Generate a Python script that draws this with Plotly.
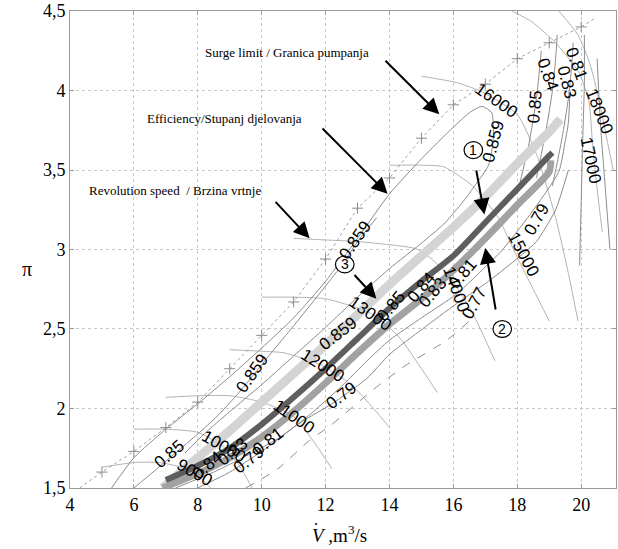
import plotly.graph_objects as go

# ---------------- data ----------------
x_ticks = [4, 6, 8, 10, 12, 14, 16, 18, 20]
y_ticks = [1.5, 2, 2.5, 3, 3.5, 4, 4.5]
y_tick_text = ["1,5", "2", "2,5", "3", "3,5", "4", "4,5"]

surge_x = [4.3, 5, 6, 7, 8, 9, 10, 11, 12, 13, 14, 15, 16, 17, 18, 19, 20, 20.4]
surge_y = [1.5, 1.6, 1.73, 1.88, 2.04, 2.25, 2.46, 2.67, 2.94, 3.26, 3.45, 3.70, 3.91, 4.04, 4.2, 4.3, 4.4, 4.45]
surge_mark_x = [5, 6, 7, 8, 9, 10, 11, 12, 13, 14, 15, 16, 17, 18, 19, 20]
surge_mark_y = [1.6, 1.73, 1.88, 2.04, 2.25, 2.46, 2.67, 2.94, 3.26, 3.45, 3.70, 3.91, 4.04, 4.2, 4.3, 4.4]

# efficiency contour lines
effA_x = [5.3, 6, 7, 8, 9, 10, 11, 12, 13, 14, 15, 16, 16.5, 16.9, 17.2, 17.25, 17.1, 16.7, 16.3, 15.7, 15, 14, 13, 12, 11, 10, 9, 8.2, 7.6]
effA_y = [1.5, 1.69, 1.87, 2.03, 2.2, 2.38, 2.57, 2.8, 3.07, 3.35, 3.57, 3.77, 3.86, 3.9, 3.86, 3.7, 3.53, 3.41, 3.3, 3.16, 3.04, 2.88, 2.7, 2.51, 2.33, 2.15, 1.98, 1.84, 1.72]
effB_x = [6.0, 6.6, 7.3, 8.0, 8.6, 9.2, 9.7, 10.3, 11.0, 11.8, 12.5, 13.0, 13.6]
effB_y = [1.5, 1.6, 1.72, 1.84, 1.95, 2.08, 2.2, 2.35, 2.52, 2.72, 2.9, 3.05, 3.2]
effC_x = [7.3, 8.5, 9.5, 10.5, 11.5, 12.5, 13.3, 14.0, 15.0, 16.1, 17.1, 17.5, 18.4, 19.3, 19.5, 19.6, 19.65]
effC_y = [1.5, 1.6, 1.7, 1.81, 1.96, 2.14, 2.3, 2.43, 2.57, 2.72, 2.91, 2.99, 3.22, 3.49, 3.68, 3.8, 4.0]
effD_x = [8.0, 9, 10, 11.2, 12.2, 13.3, 14.0, 15.03, 16.1, 17.1, 18.16, 18.6, 19.2, 19.6]
effD_y = [1.5, 1.6, 1.73, 1.91, 2.03, 2.19, 2.34, 2.5, 2.66, 2.8, 2.97, 3.05, 3.25, 3.5]
effE_x = [9.5, 10.5, 11.5, 12.2, 13.5, 14.5, 15.8, 16.5]
effE_y = [1.5, 1.62, 1.8, 1.9, 2.12, 2.27, 2.43, 2.55]
effR1_x = [18.0, 18.35, 18.6, 18.75]
effR1_y = [3.35, 3.65, 3.95, 4.25]
effR2_x = [18.6, 18.9, 19.1, 19.2, 19.25]
effR2_y = [3.45, 3.75, 4.0, 4.2, 4.35]
effR3_x = [19.1, 19.4, 19.6, 19.7, 19.75]
effR3_y = [3.4, 3.7, 3.95, 4.15, 4.3]
effR4_x = [19.95, 20.0, 20.05, 20.1, 20.1]
effR4_y = [2.9, 3.3, 3.7, 4.05, 4.35]
effR5_x = [20.9, 20.75, 20.6, 20.5]
effR5_y = [3.0, 3.4, 3.8, 4.2]

# revolution speed lines
sp9000_x = [5.0, 6.0, 6.8, 7.5, 8.0, 8.4]
sp9000_y = [1.63, 1.66, 1.66, 1.63, 1.58, 1.5]
sp10000_x = [6.0, 7.0, 8.0, 8.8, 9.3, 9.7]
sp10000_y = [1.87, 1.87, 1.85, 1.76, 1.64, 1.5]
sp11000_x = [7.0, 8.0, 9.0, 10.0, 11.0, 11.6, 12.2]
sp11000_y = [2.07, 2.08, 2.08, 2.04, 1.95, 1.8, 1.62]
sp12000_x = [9.0, 10.0, 10.7, 11.9, 12.8, 13.5, 14.0]
sp12000_y = [2.37, 2.36, 2.35, 2.27, 2.15, 2.0, 1.88]
sp13000_x = [10.0, 11.0, 12.0, 13.4, 14.3, 15.0, 15.5]
sp13000_y = [2.7, 2.7, 2.69, 2.6, 2.45, 2.25, 2.1]
sp14000_x = [11.0, 12.0, 13.0, 14.0, 14.9, 15.8, 16.6, 17.3]
sp14000_y = [3.07, 3.06, 3.05, 3.03, 3.0, 2.85, 2.6, 2.3]
sp15000_x = [14.0, 15.0, 15.7, 16.6, 17.4, 18.0, 18.5, 19.0]
sp15000_y = [3.53, 3.53, 3.52, 3.4, 3.2, 2.95, 2.75, 2.55]
sp16000_x = [15.0, 16.1, 16.8, 17.35, 18.0, 18.6, 19.2, 19.6, 19.9]
sp16000_y = [4.09, 4.05, 4.0, 3.94, 3.85, 3.6, 3.2, 2.85, 2.55]
sp17000_x = [17.84, 18.47, 19.2, 19.94, 20.25, 20.35, 20.5, 20.66]
sp17000_y = [4.5, 4.43, 4.3, 4.11, 3.92, 3.68, 3.38, 3.11]
sp18000_x = [19.3, 19.9, 20.3, 20.6, 20.8, 21.0]
sp18000_y = [4.5, 4.35, 4.15, 3.9, 3.7, 3.5]

# operating bands 1 (dark), 2 (medium), 3 (light)
band3_x = [6.9, 8, 9, 10, 11, 12, 13, 14, 15, 16, 17, 18, 19, 19.35]
band3_y = [1.5, 1.69, 1.86, 2.04, 2.22, 2.4, 2.59, 2.78, 2.96, 3.14, 3.33, 3.54, 3.74, 3.82]
band1_x = [7.0, 8, 9, 10, 11, 12, 13, 14, 15, 16, 17, 18, 19, 19.1]
band1_y = [1.55, 1.64, 1.75, 1.9, 2.07, 2.25, 2.44, 2.63, 2.8, 2.96, 3.17, 3.38, 3.59, 3.61]
band2_x = [6.9, 8, 9, 10, 11, 12, 13, 14, 15, 16, 17, 18, 19, 19.05]
band2_y = [1.5, 1.59, 1.69, 1.82, 1.98, 2.16, 2.35, 2.53, 2.69, 2.87, 3.07, 3.28, 3.49, 3.56]

# contour labels
lab_text = ["0.859", "0.859", "0.859", "0.859", "0.85", "0.84", "0.83", "0.81", "18000", "17000",
            "16000", "15000", "0.79", "0.79", "0.81", "0.79", "11000", "12000", "13000", "0.85",
            "0.84", "0.83", "14000", "0.81", "0.77", "0.85", "9000", "10000", "0.84", "0.83"]
lab_x = [9.7, 12.95, 12.4, 17.25, 18.55, 18.95, 19.55, 19.85, 20.58, 20.3,
         17.35, 18.2, 18.6, 12.5, 10.2, 9.6, 11.0, 11.9, 13.4, 14.05,
         15.0, 15.35, 16.1, 16.3, 16.65, 7.1, 7.9, 8.8, 8.3, 9.1]
lab_y = [2.22, 3.06, 2.47, 3.68, 3.9, 4.1, 4.05, 4.17, 3.87, 3.56,
         3.94, 2.97, 3.19, 2.08, 1.79, 1.68, 1.95, 2.27, 2.6, 2.64,
         2.76, 2.73, 2.75, 2.85, 2.66, 1.71, 1.6, 1.76, 1.64, 1.73]
lab_angle = [-55, -55, -38, -75, -85, 70, 75, 70, 68, 78,
             35, 62, -60, -37, -38, -38, 35, 32, 35, -50,
             -50, -50, 70, -50, -62, -40, 30, 30, -40, -40]

# text callouts
callout_text = ["Surge limit / Granica pumpanja", "Efficiency/Stupanj djelovanja", "Revolution speed  / Brzina vrtnje"]
callout_x = [8.16, 6.34, 4.53]
callout_y = [4.24, 3.825, 3.37]
arrow_tail_x = [13.78, 11.81, 10.34, 16.66, 17.375, 12.81]
arrow_tail_y = [4.206, 3.78, 3.32, 3.56, 2.56, 2.86]
arrow_tip_x = [15.56, 13.94, 11.5, 16.97, 17.0, 13.59]
arrow_tip_y = [3.85, 3.35, 3.07, 3.22, 3.01, 2.69]

circle_text = ["1", "2", "3"]
circle_x = [16.625, 17.53, 12.6]
circle_y = [3.625, 2.5, 2.906]

# ---------------- figure ----------------
fig = go.Figure()

def add_line(xs, ys, color="#8c8c8c", width=1.0, dash="solid"):
    fig.add_trace(go.Scatter(x=xs, y=ys, mode="lines", hoverinfo="skip",
                             line=dict(color=color, width=width, dash=dash, shape="spline", smoothing=0.6)))

for xs, ys in [(sp9000_x, sp9000_y), (sp10000_x, sp10000_y), (sp11000_x, sp11000_y),
               (sp12000_x, sp12000_y), (sp13000_x, sp13000_y), (sp14000_x, sp14000_y),
               (sp15000_x, sp15000_y), (sp16000_x, sp16000_y), (sp17000_x, sp17000_y),
               (sp18000_x, sp18000_y)]:
    add_line(xs, ys, color="#b4b4b4", width=1.0)

for xs, ys in [(effA_x, effA_y), (effB_x, effB_y), (effC_x, effC_y), (effD_x, effD_y),
               (effR1_x, effR1_y), (effR2_x, effR2_y), (effR3_x, effR3_y),
               (effR4_x, effR4_y), (effR5_x, effR5_y)]:
    add_line(xs, ys, color="#8c8c8c", width=1.0)
add_line(effE_x, effE_y, color="#8c8c8c", width=1.0, dash="dash")

# bands
add_line(band3_x, band3_y, color="#d4d4d4", width=9)
add_line(band2_x, band2_y, color="#a2a2a2", width=7)
add_line(band1_x, band1_y, color="#5e5e5e", width=6)

# surge line
fig.add_trace(go.Scatter(x=surge_x, y=surge_y, mode="lines", hoverinfo="skip",
                         line=dict(color="#a0a0a0", width=1, dash="dot")))
fig.add_trace(go.Scatter(x=surge_mark_x, y=surge_mark_y, mode="markers", hoverinfo="skip",
                         marker=dict(symbol="cross-thin", size=8, line=dict(color="#8c8c8c", width=1))))

annotations = []
for t, x, y, a in zip(lab_text, lab_x, lab_y, lab_angle):
    annotations.append(dict(x=x, y=y, xref="x", yref="y", text=t, textangle=a, showarrow=False,
                            font=dict(family="Liberation Sans", size=17, color="black")))

for t, x, y in zip(callout_text, callout_x, callout_y):
    annotations.append(dict(x=x, y=y, xref="x", yref="y", text=t, showarrow=False, xanchor="left",
                            font=dict(family="Liberation Serif", size=13, color="black")))

for tx, ty, hx, hy in zip(arrow_tail_x, arrow_tail_y, arrow_tip_x, arrow_tip_y):
    annotations.append(dict(x=hx, y=hy, ax=tx, ay=ty, xref="x", yref="y", axref="x", ayref="y",
                            text=" ", showarrow=True, arrowhead=2, arrowsize=1.6, arrowwidth=2,
                            arrowcolor="black", standoff=0, startstandoff=0))

shapes = []
for t, x, y in zip(circle_text, circle_x, circle_y):
    shapes.append(dict(type="circle", xref="x", yref="y", x0=x - 0.29, x1=x + 0.29,
                       y0=y - 0.053, y1=y + 0.053, line=dict(color="black", width=1.2),
                       fillcolor="white", layer="above"))
    annotations.append(dict(x=x, y=y, xref="x", yref="y", text=t, showarrow=False,
                            font=dict(family="Liberation Sans", size=14, color="black")))

# axis titles
annotations.append(dict(x=(340 - 70) / 547, y=(488 - 548) / 480, xref="paper", yref="paper",
                        yanchor="bottom",
                        text="<i>V</i> ,m<sup>3</sup>/s", showarrow=False,
                        font=dict(family="Liberation Serif", size=19, color="black")))
annotations.append(dict(x=(316 - 70) / 547, y=(488 - 530) / 480, xref="paper", yref="paper",
                        yanchor="bottom",
                        text=".", showarrow=False,
                        font=dict(family="Liberation Serif", size=16, color="black")))
annotations.append(dict(x=(20 - 70) / 547, y=(488 - 268) / 480, xref="paper", yref="paper",
                        text="\u03c0", showarrow=False,
                        font=dict(family="Liberation Serif", size=20, color="black")))

axis_common = dict(showline=True, linecolor="#9a9a9a", linewidth=1, mirror="ticks",
                   ticks="inside", ticklen=4, tickcolor="#9a9a9a", ticklabeloverflow="allow",
                   showgrid=True, gridcolor="#c8c8c8", griddash="dot", gridwidth=1,
                   zeroline=False, tickfont=dict(family="Liberation Serif", size=18, color="black"))

fig.update_layout(
    width=618, height=549,
    margin=dict(l=70, r=1, t=8, b=61),
    paper_bgcolor="white", plot_bgcolor="white",
    showlegend=False,
    xaxis=dict(range=[4, 21.09], tickvals=x_ticks, ticktext=[str(v) for v in x_ticks], **axis_common),
    yaxis=dict(range=[1.4999, 4.5001], tickvals=y_ticks, ticktext=y_tick_text, **axis_common),
    annotations=annotations,
    shapes=shapes,
)

fig.write_html("out.html")
